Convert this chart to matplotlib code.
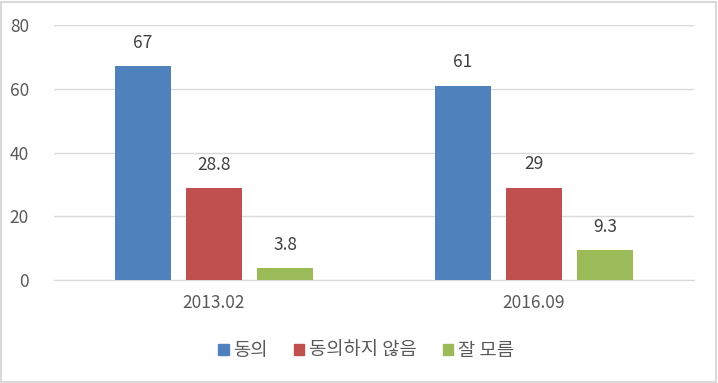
import numpy as np
import matplotlib.pyplot as plt
import matplotlib.patches as mpatches

plt.rcParams['font.family'] = ['Noto Sans CJK KR', 'DejaVu Sans']

# data
categories = ["2013.02", "2016.09"]
series_names = ["동의", "동의하지 않음", "잘 모름"]
agree = [67, 61]
disagree = [28.8, 29]
unknown = [3.8, 9.3]
colors = ["#4F81BD", "#C0504D", "#9BBB59"]
yticks = [0, 20, 40, 60, 80]

text_col = "#595959"

fig = plt.figure(figsize=(7.18, 3.83), dpi=100)
ax = fig.add_axes([0.0752, 0.2689, 0.8914, 0.6658])

x = np.arange(len(categories))
width = 0.175
step = 0.222
for i, (vals, col) in enumerate(zip([agree, disagree, unknown], colors)):
    pos = x + (i - 1) * step
    ax.bar(pos, vals, width=width, color=col, zorder=3)
    for p, v in zip(pos, vals):
        ax.text(p, v + 4.5, f"{v:g}", ha="center", va="bottom",
                fontsize=12.5, color="#404040")

ax.set_xlim(-0.5, 1.5)
ax.set_ylim(0, 80)
ax.set_yticks(yticks)
ax.set_xticks(x)
ax.set_xticklabels(categories)
ax.tick_params(axis="both", length=0, labelsize=12.5, colors=text_col)
ax.tick_params(axis="y", pad=18)
ax.tick_params(axis="x", pad=10)
ax.grid(axis="y", color="#D9D9D9", linewidth=1, zorder=0)
for s in ["top", "right", "left"]:
    ax.spines[s].set_visible(False)
ax.spines["bottom"].set_color("#D9D9D9")

handles = [mpatches.Patch(color=c, label=n) for c, n in zip(colors, series_names)]
fig.legend(handles=handles, loc="center", bbox_to_anchor=(0.51, 0.085),
           ncol=3, frameon=False, fontsize=13.5, handlelength=0.55,
           handleheight=0.55, handletextpad=0.25, columnspacing=1.4,
           labelcolor=text_col)

fig.patches.append(mpatches.Rectangle((0.002, 0.003), 0.995, 0.993,
                                      transform=fig.transFigure, fill=False,
                                      edgecolor="#D9D9D9", linewidth=1.5))

fig.savefig("out.png", dpi=100)
